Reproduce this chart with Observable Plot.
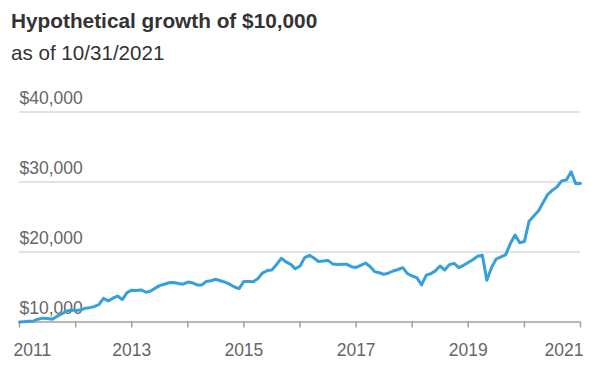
<!DOCTYPE html>
<html>
<head>
<meta charset="utf-8">
<script src="https://cdn.jsdelivr.net/npm/d3@7"></script>
<script src="https://cdn.jsdelivr.net/npm/@observablehq/plot@0.6"></script>
<style>
  html, body { margin: 0; padding: 0; background: #fff; }
  body { width: 598px; height: 369px; overflow: hidden; font-family: "Liberation Sans", Arial, sans-serif; }
  #head { position: relative; height: 80px; }
  #title { position: absolute; left: 11px; top: 9px; font-size: 20.8px; font-weight: bold; color: #333; white-space: nowrap; line-height: 24px; }
  #subtitle { position: absolute; left: 11px; top: 41px; font-size: 20.6px; color: #333; white-space: nowrap; line-height: 24px; }
  #chart svg { display: block; }
</style>
</head>
<body>
<div id="head">
  <div id="title">Hypothetical growth of $10,000</div>
  <div id="subtitle">as of 10/31/2021</div>
</div>
<div id="chart"></div>
<script>
// Month-end values of a hypothetical $10,000 investment, Oct 2011 – Oct 2021
const startMonth = "2011-11-01";
const values = [
  10000, 10050, 10100, 10150, 10400, 10550, 10500, 10380, 10800, 11150,
  11550, 11700, 11650, 11700, 11950, 12050, 12200, 12500, 13390, 13000,
  13400, 13710, 13190, 14200, 14550, 14500, 14580, 14250, 14400, 14800,
  15200, 15400, 15600, 15650, 15500, 15400, 15700, 15600, 15300, 15300,
  15800, 15900, 16100, 15900, 15700, 15400, 15000, 14760, 15800, 15800,
  15760, 16200, 17000, 17350, 17430, 18200, 19100, 18600, 18240, 17600,
  18000, 19200, 19530, 19100, 18650, 18700, 18800, 18300, 18200, 18250,
  18240, 17900, 17800, 18100, 18430, 17900, 17200, 17040, 16800, 17000,
  17290, 17500, 17760, 16900, 16570, 16330, 15290, 16700, 16900, 17300,
  18000, 17430, 18200, 18380, 17760, 18100, 18500, 18900, 19400, 19530,
  15960, 17800, 19000, 19300, 19600, 21200, 22430, 21330, 21500, 24400,
  25140, 25900, 27000, 28200, 28800, 29300, 30140, 30300, 31470, 29760,
  29800
];
const tickYears = [2011, 2012, 2013, 2014, 2015, 2016, 2017, 2018, 2019, 2020, 2021];
const labelYears = ["2011", "2013", "2015", "2017", "2019", "2021"];
const yTicks = [10000, 20000, 30000, 40000];
const yTickLabels = ["$10,000", "$20,000", "$30,000", "$40,000"];

const start = new Date(startMonth);
const data = values.map((v, i) => ({date: d3.utcMonth.offset(start, i), value: v}));
const tickDate = y => new Date(Date.UTC(y, 10, 1));
const ticks = tickYears.map(tickDate);
const labels = labelYears.map(s => ({date: tickDate(+s), text: s}));
const yLabels = yTicks.map((v, i) => ({value: v, text: yTickLabels[i]}));

const font = "\"Liberation Sans\", Arial, sans-serif";
const chart = Plot.plot({
  width: 598,
  height: 289,
  marginLeft: 19,
  marginRight: 18,
  marginTop: 31.5,
  marginBottom: 47.5,
  style: {fontFamily: font, background: "#fff", overflow: "visible"},
  x: {type: "utc", domain: [tickDate(2011), tickDate(2021)], axis: null},
  y: {domain: [10000, 40000], axis: null},
  marks: [
    Plot.ruleY(yTicks.slice(1), {x1: tickDate(2011), x2: tickDate(2021), stroke: "#dadada", strokeWidth: 1.5}),
    Plot.axisX({ticks: ticks, tickSize: 6, tickFormat: () => "", stroke: "#a0a0a0", strokeWidth: 1.5}),
    Plot.ruleY([10000], {x1: tickDate(2011), x2: tickDate(2021), stroke: "#a0a0a0", strokeWidth: 1.5}),
    Plot.text(yLabels, {x: () => tickDate(2011), y: "value", text: "text", textAnchor: "start", lineAnchor: "bottom", dy: -8.5, fontSize: 17.5, fill: "#666"}),
    Plot.text(labels.slice(0, 1), {x: "date", y: () => 10000, text: "text", textAnchor: "start", lineAnchor: "bottom", dx: -6, dy: 33.5, fontSize: 17.5, fill: "#666"}),
    Plot.text(labels.slice(1, -1), {x: "date", y: () => 10000, text: "text", textAnchor: "middle", lineAnchor: "bottom", dy: 33.5, fontSize: 17.5, fill: "#666"}),
    Plot.text(labels.slice(-1), {x: "date", y: () => 10000, text: "text", textAnchor: "end", lineAnchor: "bottom", dx: 3, dy: 33.5, fontSize: 17.5, fill: "#666"}),
    Plot.line(data, {x: "date", y: "value", stroke: "#379fd9", strokeWidth: 3, curve: "linear"})
  ]
});
document.getElementById("chart").appendChild(chart);
</script>
</body>
</html>
